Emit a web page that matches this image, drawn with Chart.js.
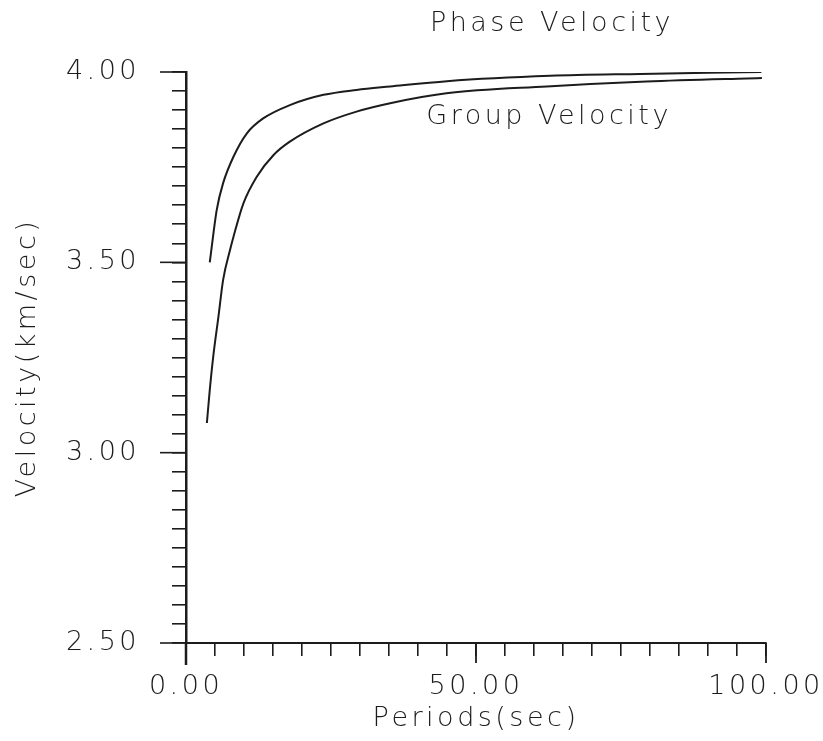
<!DOCTYPE html>
<html>
<head>
<meta charset="utf-8">
<script src="https://cdn.jsdelivr.net/npm/chart.js@4/dist/chart.umd.min.js"></script>
<style>
  html, body { margin: 0; padding: 0; background: #ffffff; }
  #wrap { width: 823px; height: 741px; position: relative; }
</style>
</head>
<body>
<div id="wrap"><canvas id="c" width="823" height="741"></canvas></div>
<script>
// ---- data ----
const phasePeriods = [4.1, 5.3, 6.4, 8.2, 10.5, 13.3, 17.9, 23.7, 29.4, 35.2, 45.0, 62.8, 78.3, 90.0, 99.2];
const phaseVelocity = [3.500, 3.638, 3.708, 3.778, 3.839, 3.878, 3.913, 3.940, 3.953, 3.962, 3.976, 3.990, 3.995, 3.998, 4.000];

const groupPeriods = [3.6, 4.1, 4.7, 5.6, 6.4, 7.6, 8.2, 9.9, 12.2, 15.1, 17.9, 23.7, 29.4, 35.2, 44.9, 62.2, 79.4, 96.7, 99.3];
const groupVelocity = [3.078, 3.165, 3.253, 3.358, 3.454, 3.533, 3.568, 3.655, 3.725, 3.782, 3.817, 3.865, 3.896, 3.918, 3.944, 3.962, 3.975, 3.983, 3.984];

const xMajorTicks = [0, 50, 100];
const xTickLabels = ["0.00", "50.00", "100.00"];
const yMajorTicks = [2.5, 3.0, 3.5, 4.0];
const yTickLabels = ["2.50", "3.00", "3.50", "4.00"];

const xTitle = "Periods(sec)";
const yTitle = "Velocity(km/sec)";
const annotations = [
  { text: "Phase Velocity", x: 63.1, y: 4.126 },
  { text: "Group Velocity", x: 62.6, y: 3.882 }
];

// ---- styling ----
const INK = "#1c1c1c";
const FONT_FAMILY = "'DejaVu Sans', 'Liberation Sans', sans-serif";
const FONT_SIZE = 27;
const FONT_WEIGHT = 200;
const SPACING = "3.5px";

function toPairs(xs, ys) { return xs.map((x, i) => ({ x: x, y: ys[i] })); }
function labelFor(value, majors, labels) {
  for (let i = 0; i < majors.length; i++) {
    if (Math.abs(value - majors[i]) < 1e-6) return labels[i];
  }
  return "";
}

const spacingPlugin = {
  id: "spacing",
  beforeUpdate(chart) { chart.ctx.letterSpacing = SPACING; },
  beforeDraw(chart) { chart.ctx.letterSpacing = SPACING; }
};

const extrasPlugin = {
  id: "extras",
  afterDraw(chart) {
    const ctx = chart.ctx;
    const xs = chart.scales.x, ys = chart.scales.y;
    const area = chart.chartArea;
    ctx.save();
    ctx.strokeStyle = INK;
    ctx.lineCap = "butt";
    // longer major ticks on the y axis
    ctx.lineWidth = 1.6;
    yMajorTicks.forEach(v => {
      const py = ys.getPixelForValue(v);
      ctx.beginPath();
      ctx.moveTo(area.left, py);
      ctx.lineTo(area.left - 26, py);
      ctx.stroke();
    });
    // longer major ticks on the x axis
    xMajorTicks.forEach(v => {
      const px = xs.getPixelForValue(v);
      ctx.beginPath();
      ctx.moveTo(px, area.bottom);
      ctx.lineTo(px, area.bottom + (v === 0 ? 22 : 20));
      ctx.lineWidth = v === 0 ? 2.5 : 1.8;
      ctx.stroke();
    });
    // annotation texts
    ctx.letterSpacing = SPACING;
    ctx.fillStyle = INK;
    ctx.font = FONT_WEIGHT + " " + FONT_SIZE + "px " + FONT_FAMILY;
    ctx.textAlign = "center";
    ctx.textBaseline = "middle";
    annotations.forEach(a => {
      ctx.fillText(a.text, xs.getPixelForValue(a.x), ys.getPixelForValue(a.y));
    });
    ctx.restore();
  }
};

const font = { family: FONT_FAMILY, size: FONT_SIZE, weight: FONT_WEIGHT };

new Chart(document.getElementById("c"), {
  type: "line",
  data: {
    datasets: [
      {
        label: "Phase Velocity",
        data: toPairs(phasePeriods, phaseVelocity),
        borderColor: INK, borderWidth: 2, pointRadius: 0,
        cubicInterpolationMode: "monotone", fill: false
      },
      {
        label: "Group Velocity",
        data: toPairs(groupPeriods, groupVelocity),
        borderColor: INK, borderWidth: 2, pointRadius: 0,
        cubicInterpolationMode: "monotone", fill: false
      }
    ]
  },
  options: {
    responsive: false,
    devicePixelRatio: 1,
    animation: false,
    layout: { padding: { top: 72, right: 57, left: 0, bottom: 0 } },
    plugins: { legend: { display: false }, tooltip: { enabled: false }, title: { display: false } },
    scales: {
      x: {
        type: "linear", min: 0, max: 100,
        afterFit(scale) { scale.height = 98; scale.paddingLeft = 0; scale.paddingRight = 0; },
        border: { display: true, color: INK, width: 2 },
        grid: { display: true, drawOnChartArea: false, drawTicks: true, tickLength: 13, color: INK, lineWidth: 1.6 },
        ticks: {
          stepSize: 5, autoSkip: false, maxRotation: 0, color: INK, font: font, padding: 15,
          callback: (v) => labelFor(v, xMajorTicks, xTickLabels)
        },
        title: { display: true, text: xTitle, color: INK, font: font, padding: { top: 0, bottom: 6 } }
      },
      y: {
        type: "linear", min: 2.5, max: 4.0,
        afterFit(scale) { scale.width = 186; scale.paddingTop = 0; scale.paddingBottom = 0; },
        border: { display: true, color: INK, width: 2.5 },
        grid: { display: true, drawOnChartArea: false, drawTicks: true, tickLength: 14, color: INK, lineWidth: 1.6 },
        ticks: {
          stepSize: 0.05, autoSkip: false, color: INK, font: font, padding: 32,
          callback: (v) => labelFor(v, yMajorTicks, yTickLabels)
        },
        title: { display: true, text: yTitle, color: INK, font: font, padding: { top: 12, bottom: 0 } }
      }
    }
  },
  plugins: [spacingPlugin, extrasPlugin]
});
</script>
</body>
</html>
